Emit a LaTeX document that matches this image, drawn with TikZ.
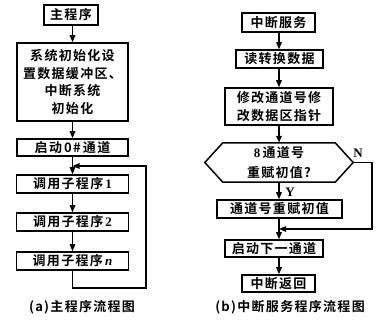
\documentclass[tikz,border=0pt]{standalone}
\usepackage{fontspec}
\setmainfont{Liberation Serif}
\newfontfamily\cjk{Noto Sans CJK SC}[LetterSpace=10,BoldFont={Noto Sans CJK SC Bold}]
\usetikzlibrary{arrows.meta}
\begin{document}
\begin{tikzpicture}[x=1pt,y=-1pt,
  box/.style={draw,line width=1.5pt,inner sep=0pt,align=center,font=\cjk\bfseries\fontsize{13}{17.5}\selectfont},
  arr/.style={line width=1.3pt,-{Triangle[length=7pt,width=5.5pt]}},
  lbl/.style={font=\rmfamily\bfseries\fontsize{13}{13}\selectfont},
  captxt/.style={font=\cjk\bfseries\fontsize{13}{13}\selectfont}]
\useasboundingbox (0,0) rectangle (386,320);
% left column
\node[box,minimum width=54pt,minimum height=20pt] (m1) at (71,15) {主程序};
\node[box,minimum width=111pt,minimum height=78pt] (m2) at (72.5,82) {系统初始化设\\置数据缓冲区、\\中断系统\\初始化};
\node[box,minimum width=111pt,minimum height=17pt] (m3) at (72.5,147.5) {启动\,0\#\,通道};
\node[box,minimum width=112pt,minimum height=18pt] (m4) at (72.5,184) {调用子程序\,{\rmfamily\bfseries 1}};
\node[box,minimum width=112pt,minimum height=18pt] (m5) at (72.5,222) {调用子程序\,{\rmfamily\bfseries 2}};
\node[box,minimum width=112pt,minimum height=18pt] (m6) at (72.5,261) {调用子程序\,{\rmfamily\bfseries\itshape n}};
\coordinate (lj) at (72.5,166);
\coordinate (lr) at (146,288);
\draw[arr] (m1.south -| m2.north) -- (m2.north);
\draw[arr] (m2.south) -- (m3.north);
\draw[arr] (m3.south) -- (m4.north);
\draw[arr] (m4.south) -- (m5.north);
\draw[arr] (m5.south) -- (m6.north);
\draw[arr] (m6.south) |- (lr) |- (lj);
% right column
\coordinate (ax) at (279,0);
\node[box,minimum width=73pt,minimum height=19pt] (r1) at (278.5,22.5) {中断服务};
\node[box,minimum width=87pt,minimum height=18pt] (r2) at (279.5,59) {读转换数据};
\node[box,minimum width=108pt,minimum height=37pt,font=\cjk\bfseries\fontsize{13}{18.5}\selectfont] (r3) at (279,106.5) {修改通道号修\\改数据区指针};
\node[inner sep=0pt,minimum width=148pt,minimum height=39pt,align=center,font=\cjk\bfseries\fontsize{13}{19.5}\selectfont] (hx) at (279,162.5) {{\rmfamily\bfseries 8}\,通道号\\重赋初值?};
\draw[line width=1.5pt] (hx.west) -- ([xshift=18pt]hx.north west) -- ([xshift=-18pt]hx.north east) -- (hx.east) -- ([xshift=-18pt]hx.south east) -- ([xshift=18pt]hx.south west) -- cycle;
\node[box,minimum width=125pt,minimum height=18pt] (r4) at (279.5,209) {通道号重赋初值};
\node[box,minimum width=98pt,minimum height=17pt] (r5) at (274,248.5) {启动下一通道};
\node[box,minimum width=73pt,minimum height=17pt] (r6) at (278.5,283.5) {中断返回};
\coordinate (rj) at (279,229);
\coordinate (rr) at (372,229);
\draw[arr] (ax |- r1.south) -- (ax |- r2.north);
\draw[arr] (ax |- r2.south) -- (ax |- r3.north);
\draw[arr] (ax |- r3.south) -- (ax |- hx.north);
\draw[arr] (ax |- hx.south) -- (ax |- r4.north);
\draw[arr] (ax |- r4.south) -- (ax |- r5.north);
\draw[arr] (ax |- r5.south) -- (ax |- r6.north);
\draw[arr] (hx.east) -| (rr) -- (rj);
\node[lbl] (nN) at (358,153) {N};
\node[lbl] (nY) at (290,192) {Y};
% captions
\node[captxt] (ca) at (82,307) {(a)主程序流程图};
\node[captxt] (cb) at (290,307) {(b)中断服务程序流程图};
\end{tikzpicture}
\end{document}
